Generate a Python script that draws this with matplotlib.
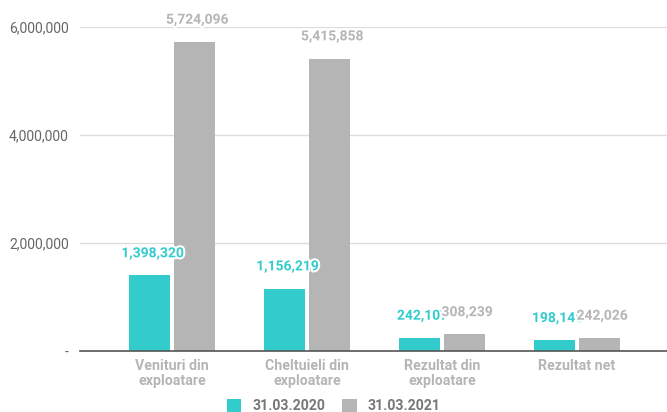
import matplotlib.pyplot as plt
import matplotlib.patheffects as pe
import numpy as np

plt.rcParams["font.family"] = ["Roboto", "DejaVu Sans"]

categories = ["Venituri din\nexploatare", "Cheltuieli din\nexploatare",
              "Rezultat din\nexploatare", "Rezultat net"]
series_names = ["31.03.2020", "31.03.2021"]
values_2020 = [1398320, 1156219, 242107, 198145]
values_2021 = [5724096, 5415858, 308239, 242026]
yticks = [0, 2000000, 4000000, 6000000]
ytick_labels = ["-", "2,000,000", "4,000,000", "6,000,000"]

TEAL = "#33CCCC"
GRAY = "#B5B5B5"


def main():
    fig = plt.figure(figsize=(6.67, 4.12), dpi=100)
    ax = fig.add_axes([80 / 667, 1 - 351 / 412, 587 / 667, (351 - 27) / 412])

    x = np.arange(len(categories))
    width = 0.307
    off = 0.165
    b1 = ax.bar(x - off, values_2020, width, color=TEAL, label=series_names[0], zorder=3)
    b2 = ax.bar(x + off, values_2021, width, color=GRAY, label=series_names[1], zorder=3)

    halo = [pe.withStroke(linewidth=3, foreground="white")]
    for bars, vals, col in [(b1, values_2020, TEAL), (b2, values_2021, GRAY)]:
        for rect, v in zip(bars, vals):
            ax.annotate(f"{v:,}", (rect.get_x() + rect.get_width() / 2, v),
                        xytext=(2, 16), textcoords="offset points",
                        ha="center", va="center", fontsize=10, fontweight="bold",
                        color=col, path_effects=halo, annotation_clip=False, zorder=5)

    ax.set_xlim(-0.5 - 24.5 / 135, 3.5 + 22.5 / 135)
    ax.set_ylim(0, 6000000)
    ax.set_yticks(yticks)
    ax.set_yticklabels(ytick_labels, color="#666666", fontsize=10)
    ax.set_xticks(x)
    ax.set_xticklabels(categories, color="#B5B5B5", fontsize=10.2, fontweight="bold",
                       linespacing=1.05)
    ax.tick_params(length=0, axis="both")
    ax.tick_params(axis="y", pad=8)
    ax.tick_params(axis="x", pad=6)
    ax.grid(axis="y", color="#DDDDDD", linewidth=1, zorder=0)
    for s in ["top", "right", "left"]:
        ax.spines[s].set_visible(False)
    ax.spines["bottom"].set_color("#555555")
    ax.spines["bottom"].set_linewidth(1.2)
    ax.spines["bottom"].set_zorder(4)

    leg = fig.legend(loc="center", bbox_to_anchor=(334 / 667, 1 - 406 / 412), ncol=2,
                     frameon=False, handlelength=1.0, handleheight=1.0,
                     columnspacing=1.2, handletextpad=0.8,
                     prop={"size": 10.2, "weight": "bold"})
    for t in leg.get_texts():
        t.set_color("#777777")

    fig.savefig("out.png", dpi=100)


if __name__ == "__main__":
    main()
